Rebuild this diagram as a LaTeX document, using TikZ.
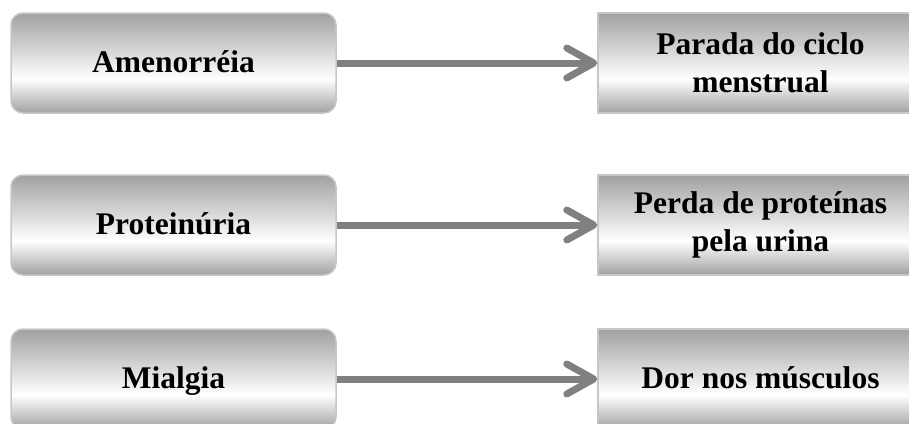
\documentclass[tikz,border=0pt]{standalone}
\usepackage{fontspec}
\setmainfont{Liberation Serif}
\usetikzlibrary{arrows.meta}
\definecolor{boxgray}{gray}{0.63}
\definecolor{boxedge}{gray}{0.78}
\definecolor{arrowgray}{gray}{0.5}
\pgfdeclareverticalshading{boxshade}{100bp}{color(0bp)=(boxgray); color(25bp)=(boxgray); color(42bp)=(white); color(75bp)=(boxgray); color(100bp)=(boxgray)}
\tikzset{
  basebox/.style={minimum width=325pt, minimum height=100pt, inner sep=0pt,
    draw=boxedge, line width=1.5pt, shading=boxshade, align=center,
    font=\bfseries\fontsize{31.5}{38.5}\selectfont},
  leftbox/.style={basebox, rounded corners=12pt},
  rightbox/.style={basebox},
  oneline/.style={text height=20pt, text depth=2pt},
  conn/.style={draw=arrowgray, line width=7pt,
    -{Straight Barb[length=27pt, width=30pt, round]}}
}
\begin{document}
\begin{tikzpicture}[x=1pt, y=-1pt]
\useasboundingbox (0,0) rectangle (909,423);
\clip (0,0) rectangle (909,423);
\node[leftbox, oneline] (a1) at (173.5,63) {Amenorréia};
\node[rightbox] (b1) at (760.5,63) {Parada do ciclo\\menstrual};
\node[leftbox, oneline] (a2) at (173.5,225) {Proteinúria};
\node[rightbox] (b2) at (760.5,225) {Perda de proteínas\\pela urina};
\node[leftbox, oneline] (a3) at (173.5,379) {Mialgia};
\node[rightbox, oneline] (b3) at (760.5,379) {Dor nos músculos};
\draw[conn] (a1.east) -- (b1.west);
\draw[conn] (a2.east) -- (b2.west);
\draw[conn] (a3.east) -- (b3.west);
\end{tikzpicture}
\end{document}
